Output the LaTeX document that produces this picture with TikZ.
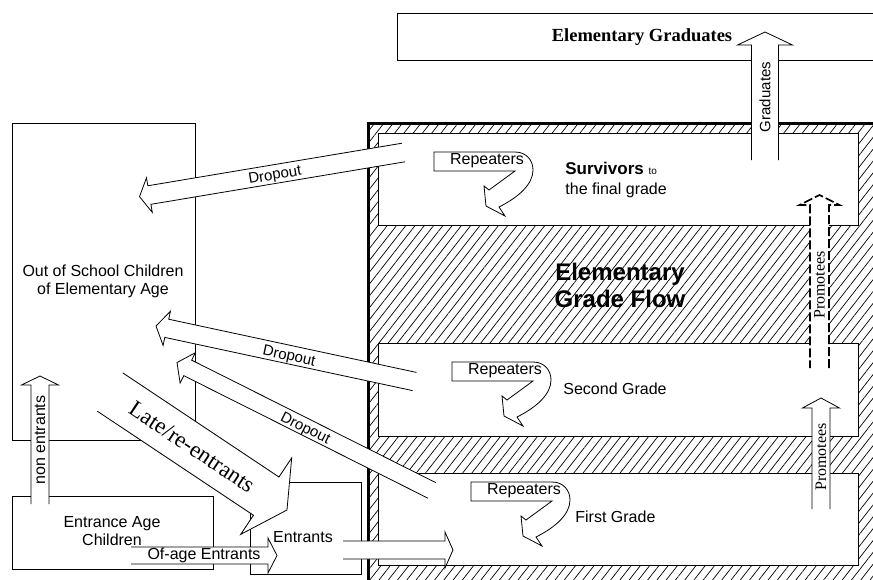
\documentclass[tikz,border=0pt]{standalone}
\usepackage{fontspec}
\setmainfont{Liberation Sans}
\newfontfamily\timesfont{Liberation Serif}
\usetikzlibrary{calc,patterns.meta}

% block arrow with open tail: [style]{tail}{tip}{half shaft}{half head}{head length}
\newcommand{\flowarrow}[6][]{%
  \path let \p1=($(#3)-(#2)$) in \pgfextra{%
    \pgfmathsetmacro\fa{atan2(\y1,\x1)}\global\let\flowang\fa
    \pgfmathsetmacro\fl{veclen(\x1,\y1)}\global\let\flowlen\fl};
  \begin{scope}[shift={(#2)},rotate=\flowang]
    \draw[fill=white,#1] (0,#4) -- (\flowlen-#6,#4) -- (\flowlen-#6,#5) -- (\flowlen,0)
      -- (\flowlen-#6,-#5) -- (\flowlen-#6,-#4) -- (0,-#4);
  \end{scope}}

\tikzset{
  lbl/.style={inner sep=0pt,font=\fontsize{16}{18}\selectfont},
  small/.style={inner sep=0pt,font=\fontsize{15}{16}\selectfont},
  promo/.style={inner sep=0pt,font=\timesfont\fontsize{16}{16}\selectfont},
  box/.style={line width=.8pt,fill=white},
  dashflow/.style={line width=1.6pt,dash pattern=on 9pt off 3pt},
  repeaters/.pic={
    \draw[fill=white,line width=.8pt] (0,0) -- (81,0) .. controls (93,0) and (99,9) .. (99,18)
      .. controls (99,32) and (85,45) .. (65,55) -- (71,64) -- (52,54) -- (50,34) -- (55,38)
      -- (81,19) -- (0,19) -- cycle;
    \node[lbl] (-txt) at (53,9) {Repeaters};
  }
}

\begin{document}
\begin{tikzpicture}[x=1pt,y=-1pt,line width=.8pt]
\useasboundingbox (0,0) rectangle (873,579);
\clip (0,0) rectangle (873,579);

% outer boxes
\draw[box] (397,13) rectangle (880,60);
\draw[box] (12,123) rectangle (195,440);
\draw[box] (12,496) rectangle (213,569);
\draw[box] (250,482) rectangle (361,574);

% hatched grade flow
\path[pattern={Lines[angle=52,distance=7.3pt,line width=.7pt]}] (368,123) rectangle (880,590);
\draw[line width=3pt] (368,590) -- (368,123) -- (880,123);
\draw[box] (378,133) rectangle (858,225);
\draw[box] (378,343) rectangle (858,436);
\draw[box] (378,473) rectangle (858,565);

\node[inner sep=0pt,align=center,font=\bfseries\fontsize{24}{27}\selectfont] (flowTxt) at (620,285) {Elementary\\Grade Flow};

\pic (rep3) at (434,152) {repeaters};
\pic (rep2) at (452,362) {repeaters};
\pic (rep1) at (471,482) {repeaters};

\node[anchor=base west,inner sep=0pt] (survTxt) at (565,174) {\bfseries\fontsize{17}{17}\selectfont Survivors \mdseries\fontsize{10}{10}\selectfont to};
\node[lbl,anchor=base west] (finalTxt) at (565,194) {the final grade};
\node[lbl,anchor=west] (secondTxt) at (563,389) {Second Grade};
\node[lbl,anchor=west] (firstTxt) at (575,517) {First Grade};

% arrow ends
\coordinate (gradTail) at (765,160);   \coordinate (gradTip) at (765,32);
\coordinate (promATail) at (821,509);  \coordinate (promATip) at (821,398);
\coordinate (promBTail) at (819.5,368); \coordinate (promBTip) at (819.5,195);
\coordinate (nonTail) at (40,504);     \coordinate (nonTip) at (40,376);
\coordinate (ofageTail) at (131,555.5); \coordinate (ofageTip) at (277,555.5);
\coordinate (entTail) at (343,550);    \coordinate (entTip) at (453,550);
\coordinate (lateTail) at (110,392);   \coordinate (lateTip) at (287,510);
\coordinate (dropCTail) at (403.5,152.5); \coordinate (dropCTip) at (139.5,196.7);
\coordinate (dropBTail) at (414.5,381.5); \coordinate (dropBTip) at (156,326);
\coordinate (dropATail) at (432,490.5); \coordinate (dropATip) at (177,362.5);

\flowarrow{gradTail}{gradTip}{13.5}{27.5}{13}
\flowarrow{promATail}{promATip}{9}{18.5}{10}
\flowarrow[dashflow]{promBTail}{promBTip}{9.5}{20}{10}
\flowarrow{nonTail}{nonTip}{9}{18.5}{9}
\flowarrow{ofageTail}{ofageTip}{8.5}{17.5}{9}
\flowarrow{entTail}{entTip}{9}{18}{8}
\flowarrow{lateTail}{lateTip}{23}{46}{25}
\flowarrow{dropCTail}{dropCTip}{9.4}{17.5}{10}
\flowarrow{dropBTail}{dropBTip}{9.3}{17.5}{11}
\flowarrow{dropATail}{dropATip}{8.7}{17}{12}

% labels
\node[inner sep=0pt,font=\timesfont\bfseries\fontsize{18.5}{18.5}\selectfont] (gradBoxTxt) at (642,37) {Elementary Graduates};
\node[small,rotate=90] (gradLbl) at (765,97) {Graduates};
\node[promo,rotate=90] (promALbl) at (821,457) {Promotees};
\node[promo,rotate=90] (promBLbl) at (819.5,285) {Promotees};
\node[lbl,align=center] (outTxt) at (103,281) {Out of School Children\\of Elementary Age};
\node[lbl,align=center] (entAgeTxt) at (112,531) {Entrance Age\\Children};
\node[lbl] (entTxt) at (303,537) {Entrants};
\node[lbl,rotate=90] (nonLbl) at (40,440) {non entrants};
\node[lbl] (ofageLbl) at (204,555.5) {Of-age Entrants};
\node[inner sep=0pt,rotate=-33.7,font=\timesfont\fontsize{23}{23}\selectfont] (lateLbl) at (192,447) {Late/re-entrants};
\node[small,rotate=9.5] (dropCLbl) at (275,176) {Dropout};
\node[small,rotate=-12.3] (dropBLbl) at (289,357) {Dropout};
\node[small,rotate=-26.6] (dropALbl) at (305,429) {Dropout};
\end{tikzpicture}
\end{document}
